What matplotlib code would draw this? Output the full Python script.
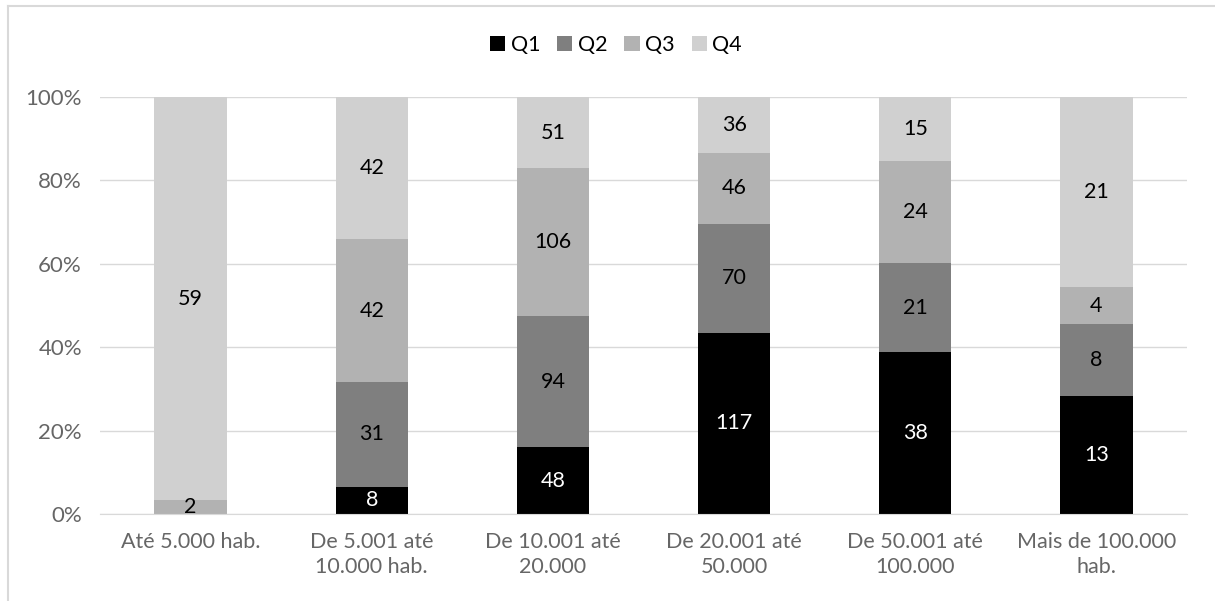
import matplotlib.pyplot as plt
import numpy as np
from matplotlib.lines import Line2D

categories = ["Até 5.000 hab.", "De 5.001 até\n10.000 hab.", "De 10.001 até\n20.000",
              "De 20.001 até\n50.000", "De 50.001 até\n100.000", "Mais de 100.000\nhab."]
series = ["Q1", "Q2", "Q3", "Q4"]
q1 = [0, 8, 48, 117, 38, 13]
q2 = [0, 31, 94, 70, 21, 8]
q3 = [2, 42, 106, 46, 24, 4]
q4 = [59, 42, 51, 36, 15, 21]
colors = ["#000000", "#7f7f7f", "#b2b2b2", "#d0d0d0"]
label_colors = ["white", "black", "black", "black"]

plt.rcParams["font.family"] = ["Lato", "DejaVu Sans"]

counts = np.array([q1, q2, q3, q4], dtype=float)
shares = counts / counts.sum(axis=0)
x = np.arange(len(categories))

fig = plt.figure(figsize=(12.15, 6.01), dpi=100)
ax = fig.add_axes([100 / 1215, 1 - 514 / 601, 1087 / 1215, 417 / 601])

bottom = np.zeros(len(categories))
for i, name in enumerate(series):
    ax.bar(x, shares[i], 0.4, bottom=bottom, color=colors[i], label=name, zorder=2)
    for j in range(len(categories)):
        if counts[i, j] > 0:
            ax.text(x[j], bottom[j] + shares[i, j] / 2, f"{int(counts[i, j])}",
                    ha="center", va="center", fontsize=15.5, color=label_colors[i], zorder=3)
    bottom += shares[i]

ax.set_xlim(-0.5, len(categories) - 0.5)
ax.set_ylim(0, 1)
ax.set_yticks(np.linspace(0, 1, 6))
ax.set_yticklabels([f"{int(v * 100)}%" for v in np.linspace(0, 1, 6)])
ax.set_xticks(x)
ax.set_xticklabels(categories, linespacing=1.3)
ax.tick_params(axis="both", length=0, labelsize=15.5, colors="#666666")
ax.tick_params(axis="x", pad=13)
ax.tick_params(axis="y", pad=13, labelsize=16)
ax.grid(axis="y", color="#d9d9d9", linewidth=1, zorder=0)
for s in ["top", "right", "left"]:
    ax.spines[s].set_visible(False)
ax.spines["bottom"].set_color("#d9d9d9")

fig.legend(loc="center", bbox_to_anchor=(616 / 1215, 1 - 45 / 601), ncol=4, frameon=False,
           fontsize=15.5, handlelength=0.7, handleheight=0.7, handletextpad=0.25, columnspacing=0.8)

fig.add_artist(Line2D([8 / 1215, 1], [1 - 6 / 601, 1 - 6 / 601], color="#d9d9d9", lw=1.5))
fig.add_artist(Line2D([8 / 1215, 8 / 1215], [0, 1 - 6 / 601], color="#d9d9d9", lw=1.5))

fig.savefig("out.png", facecolor="white")
